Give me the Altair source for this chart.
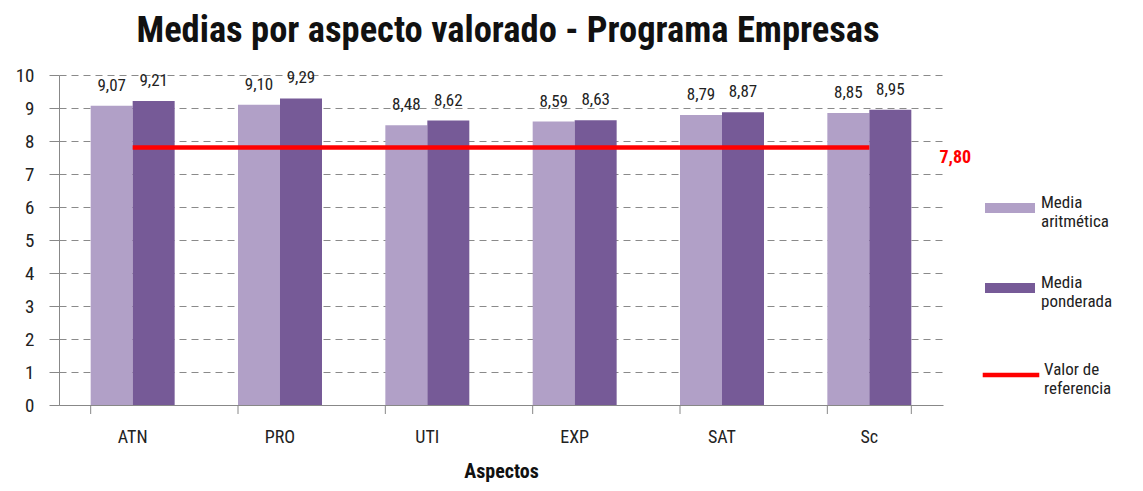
import altair as alt
import pandas as pd

categorias = ["ATN", "PRO", "UTI", "EXP", "SAT", "Sc"]
media_aritmetica = [9.07, 9.10, 8.48, 8.59, 8.79, 8.85]
media_ponderada = [9.21, 9.29, 8.62, 8.63, 8.87, 8.95]
valor_referencia = 7.80
series = ["Media aritmética", "Media ponderada"]
colores = ["#B1A0C7", "#765A97"]

FONT = "Liberation Sans Narrow, Arial Narrow, Roboto Condensed, Liberation Sans, Arial"

rows = []
for i, c in enumerate(categorias):
    rows.append({"cat": c, "serie": series[0], "valor": media_aritmetica[i]})
    rows.append({"cat": c, "serie": series[1], "valor": media_ponderada[i]})
df = pd.DataFrame(rows)
df["label"] = df["valor"].map(lambda v: f"{v:.2f}".replace(".", ","))

ref = pd.DataFrame({"cat": categorias, "valor": [valor_referencia] * len(categorias),
                    "serie": ["Valor de referencia"] * len(categorias)})
ref_label = pd.DataFrame({"cat": [categorias[-1]], "valor": [valor_referencia],
                          "label": [f"{valor_referencia:.2f}".replace(".", ",")]})
cat_df = pd.DataFrame({"cat": categorias})
last_df = pd.DataFrame({"cat": [categorias[-1]]})

xscale = alt.Scale(domain=categorias, paddingInner=0.43, paddingOuter=0.215)
yscale = alt.Scale(domain=[0, 10])
yaxis = alt.Axis(title=None, values=list(range(0, 11)), labelFontSize=19,
                 labelFont=FONT, labelColor="#222", labelPadding=15,
                 tickSize=10, tickColor="#888", domainColor="#888",
                 gridDash=[7, 5], gridColor="#8a8a8a", gridWidth=1.2)
xaxis = alt.Axis(title="Aspectos", labelFontSize=18, labelPadding=23,
                 labelFont=FONT, labelColor="#222", titleFont=FONT,
                 titleFontSize=20, titleFontWeight="bold", titleColor="#111",
                 titlePadding=15, ticks=False, domainColor="#888", labelAngle=0, grid=False)

X = alt.X("cat:N", scale=xscale, sort=categorias, axis=xaxis)
Y = alt.Y("valor:Q", scale=yscale, axis=yaxis)

bars = alt.Chart(df).mark_bar().encode(
    x=X,
    xOffset=alt.XOffset("serie:N", sort=series, scale=alt.Scale(paddingInner=0, paddingOuter=0)),
    y=Y,
    fill=alt.Fill("serie:N", sort=series,
                  scale=alt.Scale(domain=series, range=colores),
                  legend=alt.Legend(title=None, orient="none", legendX=926, legendY=108,
                                    symbolType="M-1,-0.2H1V0.2H-1Z", symbolSize=2500,
                                    symbolStrokeWidth=0,
                                    labelFont=FONT, labelFontSize=17, labelColor="#222",
                                    labelExpr="split(datum.label, ' ')",
                                    labelBaseline="alphabetic",
                                    labelOffset=6, rowPadding=33)),
)

bar_text = alt.Chart(df).mark_text(dy=-20, fontSize=17, font=FONT, color="#222").encode(
    x=X, xOffset=alt.XOffset("serie:N", sort=series), y=Y, text="label:N",
)

tick_marks = alt.Chart(cat_df).mark_rule(color="#888", strokeWidth=1).encode(
    x=alt.X("cat:N", scale=xscale, sort=categorias, axis=xaxis, bandPosition=0),
    y=alt.value(330), y2=alt.value(339),
)
tick_end = alt.Chart(last_df).mark_rule(color="#888", strokeWidth=1).encode(
    x=alt.X("cat:N", scale=xscale, sort=categorias, axis=xaxis, bandPosition=1),
    y=alt.value(330), y2=alt.value(339),
)

line = alt.Chart(ref).mark_line(strokeWidth=4.5).encode(
    x=X, y=Y,
    stroke=alt.Stroke("serie:N", scale=alt.Scale(domain=["Valor de referencia"], range=["#FF0000"]),
                      legend=alt.Legend(title=None, orient="none", legendX=921, legendY=269,
                                        symbolType="stroke", symbolSize=3200,
                                        symbolStrokeWidth=4.5,
                                        labelFont=FONT, labelFontSize=17, labelColor="#222",
                                        labelExpr="['Valor de', 'referencia']",
                                        labelBaseline="alphabetic",
                                        labelOffset=2)),
)

ref_text = alt.Chart(ref_label).mark_text(dx=86, dy=10, fontSize=18, font=FONT,
                                          fontWeight="bold", color="#FF0000").encode(
    x=X, y=Y, text="label:N",
)

chart = alt.layer(bars, bar_text, line, ref_text, tick_marks, tick_end).resolve_legend(
    fill="independent", stroke="independent"
).properties(
    width=884, height=330,
    title=alt.TitleParams("Medias por aspecto valorado - Programa Empresas",
                          font=FONT, fontSize=36.5, fontWeight="bold", color="#111",
                          anchor="middle", offset=17, dx=7),
    padding={"left": 7, "top": 4, "right": 5, "bottom": 5},
).configure_view(stroke=None)

chart.save("out.html", embed_options={"renderer": "svg", "actions": False})
